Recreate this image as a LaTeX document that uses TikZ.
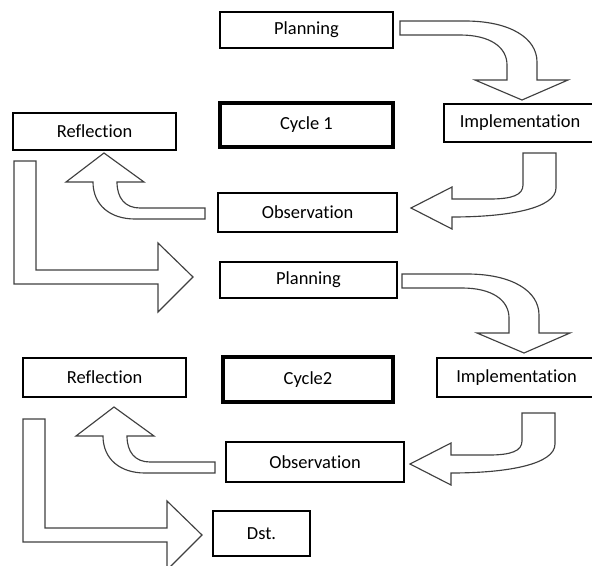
\documentclass[tikz,border=0pt]{standalone}
\usepackage{fontspec}
\setmainfont{Carlito}[Ligatures={NoCommon}]
\usepackage{tikz}

\begin{document}
\begin{tikzpicture}[
    x=0.02cm, y=-0.02cm,
    every node/.style={anchor=center, font=\fontsize{10.5}{12}\selectfont},
    stagebox/.style={draw, line width=1.1pt, inner sep=0pt},
    cyclebox/.style={draw, line width=2.2pt, inner sep=0pt},
    blockarrow/.style={draw=black!75, line width=0.65pt, fill=white, line join=miter}
    ]

\useasboundingbox (0,0) rectangle (592,565);
\clip (0,0) rectangle (592,565);

% Cycle 1
\node[stagebox, minimum width=3.46cm, minimum height=0.72cm] (plan1) at (306.5,30) {Planning};
\node[cyclebox, minimum width=3.46cm, minimum height=0.88cm] (cycle1) at (306.5,125) {Cycle 1};
\node[stagebox, minimum width=3.04cm, minimum height=0.76cm] (impl1) at (520,123) {Implementation};
\node[stagebox, minimum width=3.26cm, minimum height=0.74cm] (refl1) at (94.5,131.5) {Reflection};
\node[stagebox, minimum width=3.58cm, minimum height=0.78cm] (obs1) at (307.5,212.5) {Observation};

% Cycle 2
\node[stagebox, minimum width=3.54cm, minimum height=0.72cm] (plan2) at (308.5,280) {Planning};
\node[cyclebox, minimum width=3.40cm, minimum height=0.90cm] (cycle2) at (308,379.5) {Cycle2};
\node[stagebox, minimum width=3.18cm, minimum height=0.78cm] (impl2) at (516.5,377.5) {Implementation};
\node[stagebox, minimum width=3.26cm, minimum height=0.78cm] (refl2) at (104.5,377.5) {Reflection};
\node[stagebox, minimum width=3.56cm, minimum height=0.80cm] (obs2) at (315,462) {Observation};
\node[stagebox, minimum width=1.94cm, minimum height=0.90cm] (dst) at (261.5,533.5) {Dst.};

% Block arrows, cycle 1
\draw[blockarrow] (400,21) -- (465,21) .. controls (510,21) and (537,38) .. (537,62)
    -- (537,80) -- (568,80) -- (522,100) -- (475,80) -- (507,80) -- (507,65)
    .. controls (507,47) and (490,35) .. (460,35) -- (400,35) -- cycle;
\draw[blockarrow] (523,153) -- (556,153) -- (556,188) .. controls (556,208) and (510,217) .. (452,217)
    -- (452,229) -- (411,208) -- (452,187) -- (452,199) -- (490,199)
    .. controls (512,199) and (523,195) .. (523,185) -- cycle;
\draw[blockarrow] (205,208) -- (140,208) .. controls (125,208) and (117,198) .. (117,182)
    -- (144,182) -- (104,153) -- (66,182) -- (93,182)
    .. controls (93,205) and (110,219) .. (135,219) -- (205,219) -- cycle;
\draw[blockarrow] (14,161) -- (36,161) -- (36,270) -- (158,270) -- (158,243) -- (193,277)
    -- (158,312) -- (158,284) -- (14,284) -- cycle;

% Block arrows, cycle 2
\begin{scope}[shift={(2,253)}]
\draw[blockarrow] (400,21) -- (465,21) .. controls (510,21) and (537,38) .. (537,62)
    -- (537,80) -- (568,80) -- (522,100) -- (475,80) -- (507,80) -- (507,65)
    .. controls (507,47) and (490,35) .. (460,35) -- (400,35) -- cycle;
\end{scope}
\begin{scope}[shift={(-1,256)}]
\draw[blockarrow] (523,157) -- (556,157) -- (556,188) .. controls (556,208) and (510,217) .. (452,217)
    -- (452,229) -- (411,208) -- (452,187) -- (452,199) -- (490,199)
    .. controls (512,199) and (523,195) .. (523,185) -- cycle;
\end{scope}
\begin{scope}[shift={(10,254)}]
\draw[blockarrow] (205,208) -- (140,208) .. controls (125,208) and (117,198) .. (117,182)
    -- (144,182) -- (104,153) -- (66,182) -- (93,182)
    .. controls (93,205) and (110,219) .. (135,219) -- (205,219) -- cycle;
\end{scope}
\begin{scope}[shift={(9,258)}]
\draw[blockarrow] (14,161) -- (36,161) -- (36,270) -- (158,270) -- (158,243) -- (193,277)
    -- (158,312) -- (158,284) -- (14,284) -- cycle;
\end{scope}

\end{tikzpicture}
\end{document}
